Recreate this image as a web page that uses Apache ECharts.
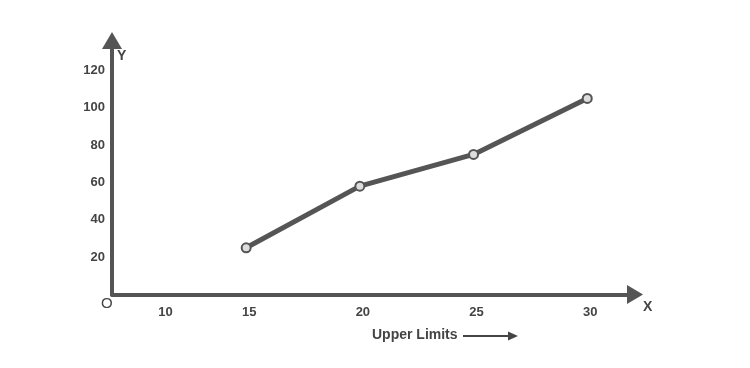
<!DOCTYPE html>
<html>
<head>
<meta charset="utf-8">
<script src="https://cdn.jsdelivr.net/npm/echarts@6/dist/echarts.min.js"></script>
<style>
html,body{margin:0;padding:0;background:#fff;}
#chart{width:750px;height:368px;}
</style>
</head>
<body>
<div id="chart"></div>
<script>
// Data
const upperLimits = [15, 20, 25, 30];
const cumulativeFreq = [25, 58, 75, 105];
const xTickValues = [10, 15, 20, 25, 30];
const xTickLabels = ['10', '15', '20', '25', '30'];
const yTickLabels = ['20', '40', '60', '80', '100', '120'];
const xAxisTitle = 'Upper Limits';

const AX = '#555';
const FONT = '"Liberation Sans", Arial, Helvetica, sans-serif';

const chart = echarts.init(document.getElementById('chart'), null, {renderer: 'canvas'});
chart.setOption({
  animation: false,
  backgroundColor: '#fff',
  grid: {left: 112, right: 115, top: 40.5, bottom: 73.5, containLabel: false},
  xAxis: {
    type: 'value',
    min: 9.1,
    max: 32.1,
    axisLine: {show: true, lineStyle: {color: AX, width: 4}, symbol: ['none', 'triangle'], symbolSize: [19, 16]},
    axisTick: {show: false},
    splitLine: {show: false},
    axisLabel: {
      customValues: xTickValues,
      margin: 11,
      color: '#444',
      fontSize: 13,
      fontWeight: 'bold',
      fontFamily: FONT,
      formatter: function (v) {
        const i = xTickValues.indexOf(v);
        const t = i >= 0 ? xTickLabels[i] : '';
        return i === 0 ? '{first|' + t + '}' : '{n|' + t + '}';
      },
      rich: {
        first: {padding: [0, 0, 0, 66], color: '#444', fontSize: 13, fontWeight: 'bold', fontFamily: FONT},
        n: {padding: [0, 0, 0, 6], color: '#444', fontSize: 13, fontWeight: 'bold', fontFamily: FONT}
      }
    }
  },
  yAxis: {
    type: 'value',
    min: 0,
    max: 136,
    interval: 20,
    axisLine: {show: true, lineStyle: {color: AX, width: 4}, symbol: ['none', 'triangle'], symbolSize: [20, 17]},
    axisTick: {show: false},
    splitLine: {show: false},
    axisLabel: {
      showMinLabel: false,
      showMaxLabel: false,
      margin: 7,
      color: '#444',
      fontSize: 13,
      fontWeight: 'bold',
      fontFamily: FONT,
      formatter: function (v) {
        const i = Math.round(v / 20) - 1;
        return (i >= 0 && i < yTickLabels.length) ? yTickLabels[i] : '';
      }
    }
  },
  series: [{
    type: 'line',
    data: upperLimits.map((x, i) => [x, cumulativeFreq[i]]),
    lineStyle: {color: AX, width: 5},
    symbol: 'circle',
    symbolSize: 9,
    itemStyle: {color: '#ddd', borderColor: AX, borderWidth: 2},
    z: 5
  }],
  graphic: [
    {type: 'text', left: 101, top: 296, z: 10, style: {text: 'O', fill: '#444', fontSize: 15, fontFamily: FONT}},
    {type: 'text', left: 117, top: 49, style: {text: 'Y', fill: '#444', fontSize: 14, fontWeight: 'bold', fontFamily: FONT}},
    {type: 'text', left: 643, top: 300, style: {text: 'X', fill: '#444', fontSize: 14, fontWeight: 'bold', fontFamily: FONT}},
    {type: 'text', left: 372, top: 328, style: {text: xAxisTitle, fill: '#444', fontSize: 14, fontWeight: 'bold', fontFamily: FONT}},
    {type: 'line', shape: {x1: 463, y1: 336, x2: 510, y2: 336}, style: {stroke: '#444', lineWidth: 2}},
    {type: 'polygon', shape: {points: [[508, 331.5], [518, 336], [508, 340.5]]}, style: {fill: '#444'}}
  ]
});
</script>
</body>
</html>
